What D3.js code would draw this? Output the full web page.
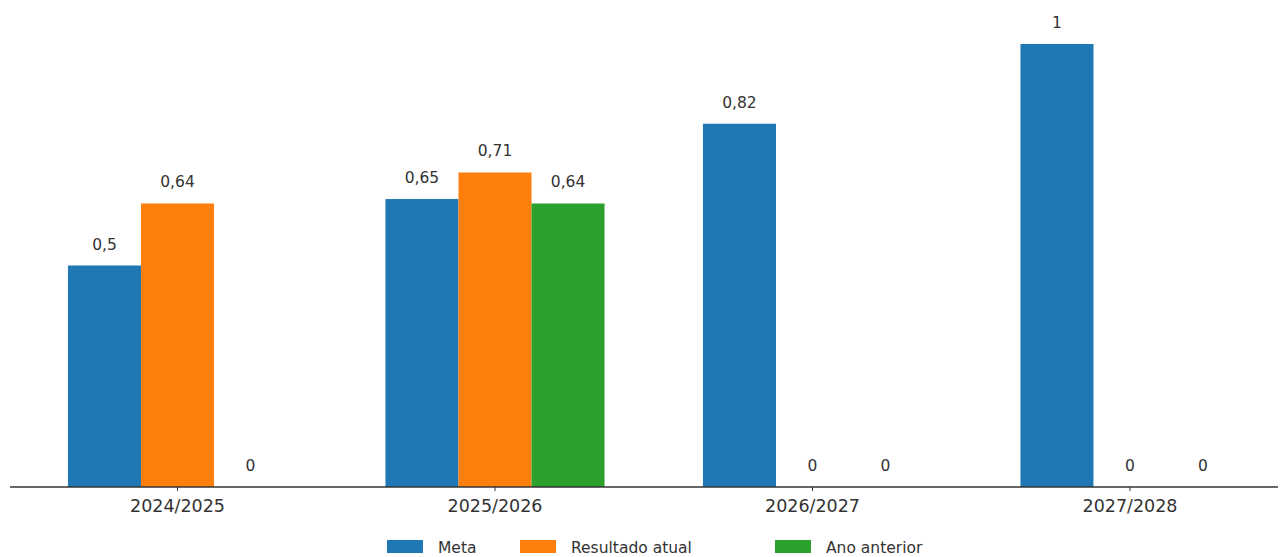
<!DOCTYPE html>
<html>
<head>
<meta charset="utf-8">
<script src="https://cdn.jsdelivr.net/npm/d3@7"></script>
<style>
  html, body { margin: 0; padding: 0; background: #fff; }
  svg { display: block; font-family: "DejaVu Sans", sans-serif; }
</style>
</head>
<body>
<svg id="chart" width="1288" height="557"></svg>
<script>
const categories = ["2024/2025", "2025/2026", "2026/2027", "2027/2028"];
const seriesNames = ["Meta", "Resultado atual", "Ano anterior"];
const meta = [0.5, 0.65, 0.82, 1];
const resultadoAtual = [0.64, 0.71, 0, 0];
const anoAnterior = [0, 0.64, 0, 0];
const colors = ["#1f77b4", "#ff7f0e", "#2ca02c"];

const seriesValues = [meta, resultadoAtual, anoAnterior];
const svg = d3.select("#chart");

const x = d3.scaleBand().domain(categories).range([18.75, 1288.75]).paddingInner(0.31).paddingOuter(0.155);
const xs = d3.scaleBand().domain(seriesNames).range([0, x.bandwidth()]);
const y = d3.scaleLinear().domain([0, 1]).range([487, 44]);

const fmt = v => String(v).replace(".", ",");

const g = svg.append("g");
seriesNames.forEach((s, si) => {
  const vals = seriesValues[si];
  g.selectAll(null).data(categories).enter().append("rect")
    .attr("x", c => x(c) + xs(s))
    .attr("y", (c, i) => y(vals[i]))
    .attr("width", xs.bandwidth())
    .attr("height", (c, i) => y(0) - y(vals[i]))
    .attr("fill", colors[si]);
  g.selectAll(null).data(categories).enter().append("text")
    .attr("x", c => x(c) + xs(s) + xs.bandwidth() / 2)
    .attr("y", (c, i) => y(vals[i]) - 16)
    .attr("text-anchor", "middle")
    .attr("font-size", 15.5)
    .attr("fill", "#333")
    .text((c, i) => fmt(vals[i]));
});

// x axis
svg.append("line").attr("x1", 10).attr("x2", 1278).attr("y1", y(0)).attr("y2", y(0))
  .attr("stroke", "#333").attr("stroke-width", 1.3);
const ax = svg.append("g").attr("transform", `translate(0,${y(0)})`)
  .call(d3.axisBottom(x).tickSize(4).tickPadding(9));
ax.select(".domain").remove();
ax.selectAll("line").attr("stroke", "#333");
ax.selectAll("text").attr("font-size", 17.5).attr("fill", "#333")
  .attr("font-family", "DejaVu Sans, sans-serif");

// legend
const legendX = [387, 520, 775];
const leg = svg.append("g");
seriesNames.forEach((s, i) => {
  leg.append("rect").attr("x", legendX[i]).attr("y", 540).attr("width", 36).attr("height", 13).attr("fill", colors[i]);
  leg.append("text").attr("x", legendX[i] + 51).attr("y", 553).attr("font-size", 15.5).attr("fill", "#333").text(s);
});
</script>
</body>
</html>
